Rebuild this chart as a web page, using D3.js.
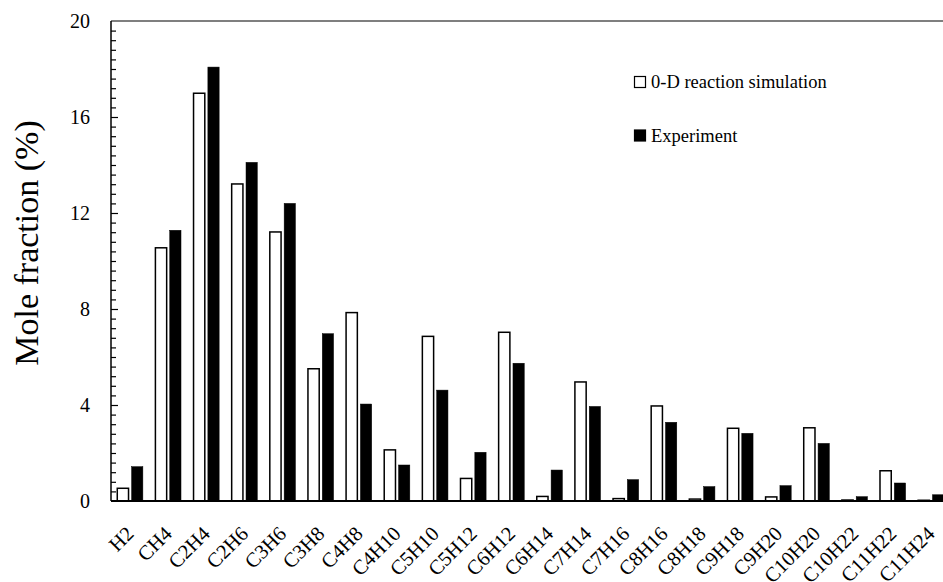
<!DOCTYPE html>
<html>
<head>
<meta charset="utf-8">
<script src="https://cdn.jsdelivr.net/npm/d3@7"></script>
<style>
  body { margin: 0; background: #fff; }
  svg { display: block; }
  svg text { font-family: "Liberation Serif", "Times New Roman", serif; fill: #000; }
</style>
</head>
<body>
<div id="chart"></div>
<script>
// categories and series values (mole fraction, %)
const species = ["H2","CH4","C2H4","C2H6","C3H6","C3H8","C4H8","C4H10","C5H10","C5H12","C6H12",
  "C6H14","C7H14","C7H16","C8H16","C8H18","C9H18","C9H20","C10H20","C10H22","C11H22","C11H24"];
const simulation = [0.53,10.55,16.99,13.21,11.21,5.51,7.85,2.13,6.86,0.94,7.03,
  0.19,4.96,0.10,3.96,0.08,3.03,0.17,3.05,0.04,1.26,0.03];
const experiment = [1.43,11.28,18.08,14.11,12.40,6.97,4.04,1.50,4.62,2.03,5.74,
  1.29,3.94,0.89,3.28,0.60,2.82,0.64,2.40,0.18,0.75,0.26];
const seriesNames = ["0-D reaction simulation","Experiment"];
const yTicks = [0,4,8,12,16,20];

const width = 943, height = 582;
// the plot runs a little past the right edge of the picture, as in the original
const margin = { top: 21, left: 111, bottom: 81, right: -7 };
const innerWidth = width - margin.left - margin.right;
const innerHeight = height - margin.top - margin.bottom;

const svg = d3.select("#chart").append("svg")
  .attr("width", width)
  .attr("height", height);

const chart = svg.append("g")
  .attr("transform", `translate(${margin.left},${margin.top})`);

const x = d3.scaleBand().domain(species).range([0, innerWidth]).padding(0);
const xs = d3.scaleBand().domain(seriesNames).range([0, x.bandwidth()])
  .paddingInner(0.215).paddingOuter(0.437);
const y = d3.scaleLinear().domain([0, 20]).range([innerHeight, 0]);

const rows = species.map((s, i) => ({ s, vals: [
  { k: seriesNames[0], v: simulation[i] },
  { k: seriesNames[1], v: experiment[i] }
]}));

// bars
const groups = chart.selectAll(".grp").data(rows).enter().append("g")
  .attr("transform", d => `translate(${x(d.s)},0)`);

groups.selectAll("rect").data(d => d.vals).enter().append("rect")
  .attr("x", d => xs(d.k))
  .attr("width", xs.bandwidth())
  .attr("y", d => y(d.v))
  .attr("height", d => y(0) - y(d.v))
  .attr("fill", d => d.k === seriesNames[0] ? "#fff" : "#000")
  .attr("stroke", "#000")
  .attr("stroke-width", d => d.k === seriesNames[0] ? 1.5 : 0.5);

// y axis: inside minor ticks every 0.4, longer major ticks every 4
const minor = d3.range(0, 20.001, 0.4).filter(v => Math.abs(v % 4) > 0.01 && Math.abs(v % 4 - 4) > 0.01);
chart.append("g")
  .call(d3.axisRight(y).tickValues(minor).tickSize(5).tickFormat(""))
  .call(g => g.select(".domain").remove())
  .selectAll("line").attr("stroke", "#000").attr("stroke-width", 1.2);

chart.append("g")
  .call(d3.axisRight(y).tickValues(yTicks.slice(1, -1)).tickSize(7).tickFormat(""))
  .call(g => g.select(".domain").remove())
  .selectAll("line").attr("stroke", "#000").attr("stroke-width", 1.2);

const yAxis = chart.append("g")
  .call(d3.axisLeft(y).tickValues(yTicks).tickSize(0).tickPadding(21));
yAxis.select(".domain").remove();
yAxis.selectAll("text")
  .attr("font-family", "Liberation Serif")
  .attr("font-size", 20)
  .attr("fill", "#000");

// frame: left, bottom, top
chart.append("line").attr("x1", 0).attr("x2", 0).attr("y1", 0).attr("y2", innerHeight)
  .attr("stroke", "#000").attr("stroke-width", 1.5);
chart.append("line").attr("x1", 0).attr("x2", innerWidth).attr("y1", innerHeight).attr("y2", innerHeight)
  .attr("stroke", "#000").attr("stroke-width", 1.8);
chart.append("line").attr("x1", 0).attr("x2", innerWidth).attr("y1", 0).attr("y2", 0)
  .attr("stroke", "#000").attr("stroke-width", 1.2);

// x labels, rotated 45 degrees
chart.selectAll(".xl").data(species).enter().append("text")
  .attr("class", "xl")
  .attr("text-anchor", "end")
  .attr("font-family", "Liberation Serif")
  .attr("font-size", 20.5)
  .attr("transform", d => `translate(${x(d) + x.bandwidth() / 2 + 5},${innerHeight + 34}) rotate(-45)`)
  .text(d => d);

// y label
svg.append("text")
  .attr("transform", `translate(38,243) rotate(-90)`)
  .attr("text-anchor", "middle")
  .attr("font-family", "Liberation Serif")
  .attr("font-size", 34)
  .text("Mole fraction (%)");

// legend
const legend = svg.append("g").attr("transform", "translate(634,76)");
const items = legend.selectAll("g").data(seriesNames).enter().append("g")
  .attr("transform", (d, i) => `translate(0,${i * 53.5})`);
items.append("rect")
  .attr("x", 0.5).attr("y", 0.5).attr("width", 11).attr("height", 11)
  .attr("fill", (d, i) => i === 0 ? "#fff" : "#000")
  .attr("stroke", "#000").attr("stroke-width", 1.2);
items.append("text")
  .attr("x", 17).attr("y", 12)
  .attr("font-family", "Liberation Serif")
  .attr("font-size", 18.5)
  .text(d => d);
</script>
</body>
</html>
